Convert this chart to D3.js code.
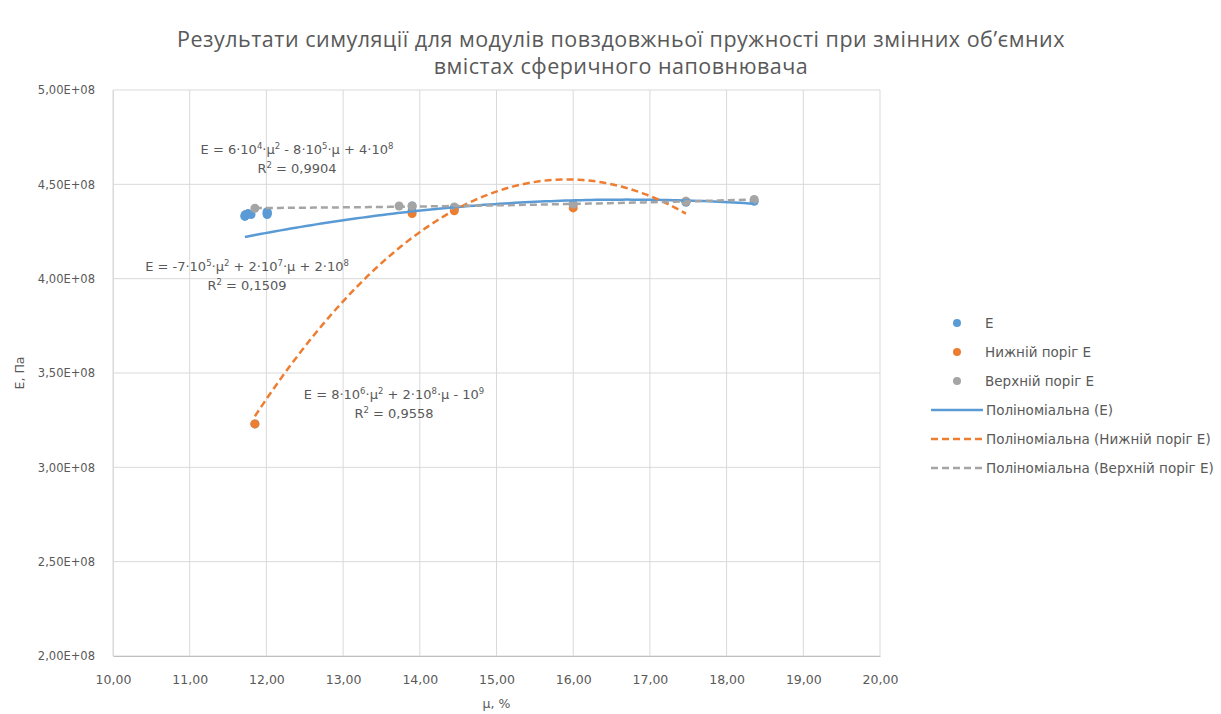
<!DOCTYPE html>
<html>
<head>
<meta charset="utf-8">
<script src="https://cdn.jsdelivr.net/npm/d3@7"></script>
<style>
  html, body { margin: 0; padding: 0; background: #fff; }
  svg { display: block; font-family: "DejaVu Sans", sans-serif; }
</style>
</head>
<body>
<svg id="chart" width="1221" height="714"></svg>
<script>
// Simulated Young's moduli vs. volume fraction of spherical filler
const muE      = [11.72, 11.72, 11.73, 11.76, 11.80, 11.85, 12.01, 12.01, 12.01, 12.01, 13.90, 13.90, 14.45, 16.00, 17.47, 18.36];
const valE     = [4.33e8, 4.335e8, 4.34e8, 4.345e8, 4.34e8, 3.23e8, 4.34e8, 4.345e8, 4.35e8, 4.355e8, 4.385e8, 4.36e8, 4.37e8, 4.395e8, 4.405e8, 4.41e8];
const muLow    = [11.85, 13.90, 14.45, 16.00, 17.47];
const valLow   = [3.23e8, 4.345e8, 4.36e8, 4.375e8, 4.41e8];
const muHigh   = [11.85, 13.73, 13.90, 14.45, 16.00, 17.47, 18.36];
const valHigh  = [4.373e8, 4.385e8, 4.385e8, 4.38e8, 4.395e8, 4.41e8, 4.42e8];

const xTicks = [10, 11, 12, 13, 14, 15, 16, 17, 18, 19, 20];
const yTicks = [2.0e8, 2.5e8, 3.0e8, 3.5e8, 4.0e8, 4.5e8, 5.0e8];

const titleLines = [
  "Результати симуляції для модулів повздовжньої пружності при змінних об’ємних",
  "вмістах сферичного наповнювача"
];
const seriesNames = ["E", "Нижній поріг E", "Верхній поріг E"];
const trendNames = ["Поліноміальна (E)", "Поліноміальна (Нижній поріг E)", "Поліноміальна (Верхній поріг E)"];
// Trendline equation labels: text segments, second item set for superscripts
const eqE    = [["E = -7·10"],["5",1],["·μ"],["2",1],[" + 2·10"],["7",1],["·μ + 2·10"],["8",1]];
const eqLow  = [["E = 8·10"],["6",1],["·μ"],["2",1],[" + 2·10"],["8",1],["·μ - 10"],["9",1]];
const eqHigh = [["E = 6·10"],["4",1],["·μ"],["2",1],[" - 8·10"],["5",1],["·μ + 4·10"],["8",1]];
const r2E = "0,1509", r2Low = "0,9558", r2High = "0,9904";

const colors = ["#5B9BD5", "#ED7D31", "#A5A5A5"];
const textColor = "#595959";

const svg = d3.select("#chart");
const plot = { left: 113, right: 880, top: 90, bottom: 656 };

const x = d3.scaleLinear().domain([10, 20]).range([plot.left, plot.right]);
const y = d3.scaleLinear().domain([2.0e8, 5.0e8]).range([plot.bottom, plot.top]);

const fmtX = v => d3.format(".2f")(v).replace(".", ",");
const fmtY = v => {
  const e = Math.floor(Math.log10(v));
  const m = v / Math.pow(10, e);
  return m.toFixed(2).replace(".", ",") + "E+" + String(e).padStart(2, "0");
};

// Gridlines
svg.append("g").selectAll("line").data(yTicks).join("line")
  .attr("x1", plot.left).attr("x2", plot.right)
  .attr("y1", d => y(d)).attr("y2", d => y(d))
  .attr("stroke", "#D9D9D9").attr("stroke-width", 1);
svg.append("g").selectAll("line").data(xTicks).join("line")
  .attr("y1", plot.top).attr("y2", plot.bottom)
  .attr("x1", d => x(d)).attr("x2", d => x(d))
  .attr("stroke", "#D9D9D9").attr("stroke-width", 1);

// Axes
const xAxis = svg.append("g").attr("transform", `translate(0,${plot.bottom})`)
  .call(d3.axisBottom(x).tickValues(xTicks).tickFormat(fmtX).tickSize(0).tickPadding(19));
xAxis.select(".domain").attr("stroke", "#BFBFBF");
xAxis.selectAll("text").attr("fill", textColor).attr("font-size", 12.5)
  .attr("font-family", '"DejaVu Sans", sans-serif');

const yAxis = svg.append("g").attr("transform", `translate(${plot.left},0)`)
  .call(d3.axisLeft(y).tickValues(yTicks).tickFormat(fmtY).tickSize(0).tickPadding(18));
yAxis.select(".domain").attr("stroke", "#D9D9D9");
yAxis.selectAll("text").attr("fill", textColor).attr("font-size", 11.5)
  .attr("font-family", '"DejaVu Sans", sans-serif');

// Axis titles
svg.append("text").attr("x", (plot.left + plot.right) / 2).attr("y", 708)
  .attr("text-anchor", "middle").attr("fill", textColor).attr("font-size", 12.5)
  .text("μ, %");
svg.append("text").attr("transform", `translate(24,${(plot.top + plot.bottom) / 2}) rotate(-90)`)
  .attr("text-anchor", "middle").attr("fill", textColor).attr("font-size", 12.5)
  .text("E, Па");

// Title
svg.append("g").selectAll("text").data(titleLines).join("text")
  .attr("x", 621).attr("y", (d, i) => 47 + i * 27)
  .attr("text-anchor", "middle").attr("fill", textColor)
  .attr("font-family", '"Open Sans", sans-serif').attr("font-size", 21.5)
  .attr("letter-spacing", 0.5)
  .text(d => d);

// Least-squares quadratic fit
function quadFit(xs, ys) {
  const n = xs.length, xm = d3.mean(xs);
  const A = [[0,0,0],[0,0,0],[0,0,0]], b = [0,0,0];
  for (let i = 0; i < n; i++) {
    const t = xs[i] - xm, p = [1, t, t * t];
    for (let r = 0; r < 3; r++) {
      b[r] += p[r] * ys[i];
      for (let c = 0; c < 3; c++) A[r][c] += p[r] * p[c];
    }
  }
  for (let k = 0; k < 3; k++) {
    for (let r = k + 1; r < 3; r++) {
      const f = A[r][k] / A[k][k];
      for (let c = k; c < 3; c++) A[r][c] -= f * A[k][c];
      b[r] -= f * b[k];
    }
  }
  const s = [0,0,0];
  for (let r = 2; r >= 0; r--) {
    let v = b[r];
    for (let c = r + 1; c < 3; c++) v -= A[r][c] * s[c];
    s[r] = v / A[r][r];
  }
  return t => { const u = t - xm; return s[0] + s[1] * u + s[2] * u * u; };
}

const series = [
  { xs: muE, ys: valE, color: colors[0], dash: null },
  { xs: muLow, ys: valLow, color: colors[1], dash: "7,4" },
  { xs: muHigh, ys: valHigh, color: colors[2], dash: "7,4" }
];

const line = d3.line().x(d => x(d[0])).y(d => y(d[1]));
series.forEach(s => {
  const f = quadFit(s.xs, s.ys);
  const [lo, hi] = d3.extent(s.xs);
  s.trend = d3.range(0, 101).map(i => { const t = lo + (hi - lo) * i / 100; return [t, f(t)]; });
});

// Markers, then trendlines
series.forEach(s => {
  svg.append("g").selectAll("circle").data(d3.zip(s.xs, s.ys)).join("circle")
    .attr("cx", d => x(d[0])).attr("cy", d => y(d[1])).attr("r", 4.5)
    .attr("fill", s.color);
});
series.forEach(s => {
  svg.append("path").datum(s.trend).attr("d", line)
    .attr("fill", "none").attr("stroke", s.color).attr("stroke-width", 2.5)
    .attr("stroke-dasharray", s.dash);
});

// Trendline equation labels (superscripts raised, following text dropped back)
function eqLabel(cx, cy, segs, r2) {
  const g = svg.append("g").attr("fill", textColor).attr("font-size", 13);
  const t1 = g.append("text").attr("x", cx).attr("y", cy).attr("text-anchor", "middle");
  let raised = false;
  segs.forEach(sg => {
    const ts = t1.append("tspan").text(sg[0]);
    if (sg[1]) {
      ts.attr("font-size", 8.5).attr("dy", -5);
      raised = true;
    } else if (raised) {
      ts.attr("dy", 5);
      raised = false;
    }
  });
  const t2 = g.append("text").attr("x", cx).attr("y", cy + 19).attr("text-anchor", "middle");
  t2.append("tspan").text("R");
  t2.append("tspan").attr("font-size", 8.5).attr("dy", -5).text("2");
  t2.append("tspan").attr("dy", 5).text(" = " + r2);
}
eqLabel(297, 154, eqHigh, r2High);
eqLabel(247, 271, eqE, r2E);
eqLabel(394, 399, eqLow, r2Low);

// Legend
const legend = svg.append("g").attr("font-size", 13.5).attr("fill", textColor);
seriesNames.forEach((name, i) => {
  const yy = 323 + i * 29;
  legend.append("circle").attr("cx", 957).attr("cy", yy).attr("r", 4).attr("fill", colors[i]);
  legend.append("text").attr("x", 985).attr("y", yy + 5).text(name);
});
trendNames.forEach((name, i) => {
  const yy = 323 + (i + 3) * 29;
  legend.append("line").attr("x1", 931).attr("x2", 983).attr("y1", yy).attr("y2", yy)
    .attr("stroke", colors[i]).attr("stroke-width", 2.5)
    .attr("stroke-dasharray", i === 0 ? null : "7,4");
  legend.append("text").attr("x", 986).attr("y", yy + 5).text(name);
});
</script>
</body>
</html>
